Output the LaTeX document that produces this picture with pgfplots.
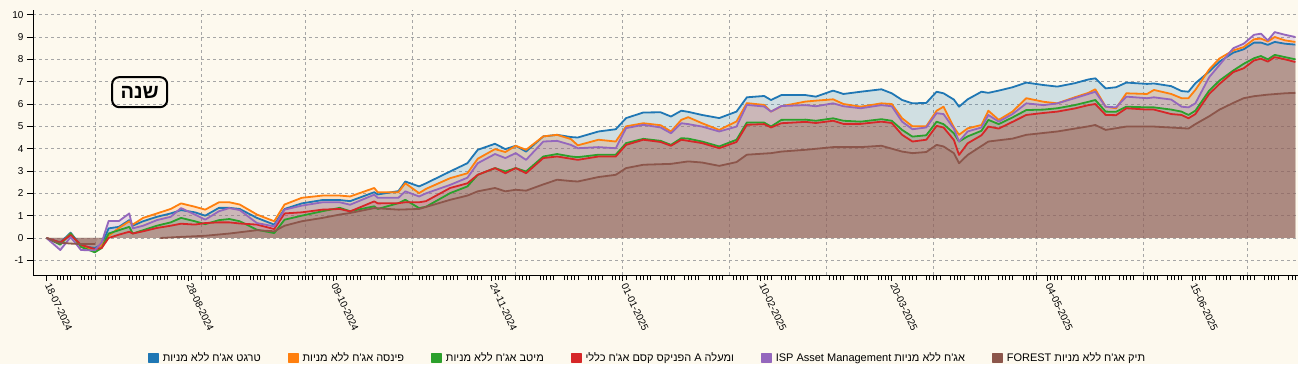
\documentclass[border=0pt]{standalone}
\usepackage{fontspec}
\setmainfont{Liberation Sans}
\newfontfamily\hebfont[Script=Hebrew]{Liberation Sans}
\usepackage{pgfplots}
\pgfplotsset{compat=1.18}
\usepackage{pgfplotstable}
\TeXXeTstate=1
\newcommand{\heb}[1]{{\hebfont\beginR #1\endR}}
\definecolor{bg}{HTML}{FDF9EE}
\definecolor{cB}{HTML}{1F77B4}
\definecolor{cO}{HTML}{FF7F0E}
\definecolor{cG}{HTML}{2CA02C}
\definecolor{cR}{HTML}{D62728}
\definecolor{cP}{HTML}{9467BD}
\definecolor{cF}{HTML}{8C564B}

\pgfplotstableread{
d B O G R P
0 0 0 0 0 0
4 -0.2 -0.25 -0.3 -0.2 -0.54
7 0.24 0.2 0.2 0.13 0.04
10 -0.35 -0.4 -0.4 -0.3 -0.54
14 -0.45 -0.55 -0.64 -0.5 -0.55
16 -0.3 -0.3 -0.45 -0.45 -0.2
18 0.43 0.1 0.2 0.0 0.76
21 0.5 0.45 0.35 0.15 0.76
24 0.8 0.75 0.5 0.28 1.1
25 0.55 0.6 0.2 0.2 0.43
28 0.75 0.9 0.35 0.3 0.55
32 0.95 1.1 0.55 0.45 0.8
36 1.1 1.3 0.7 0.55 0.95
39 1.25 1.55 0.9 0.64 1.34
43 1.15 1.4 0.75 0.6 1.05
46 1.0 1.27 0.62 0.67 0.82
50 1.35 1.6 0.8 0.7 1.2
53 1.35 1.6 0.85 0.7 1.34
56 1.3 1.5 0.75 0.65 1.25
61 0.9 1.05 0.37 0.6 0.67
66 0.6 0.75 0.22 0.4 0.52
69 1.3 1.5 0.82 1.1 1.27
74 1.55 1.8 1.0 1.15 1.45
80 1.7 1.9 1.2 1.27 1.6
85 1.7 1.9 1.35 1.3 1.6
88 1.65 1.86 1.2 1.19 1.49
95 2.05 2.24 1.42 1.64 1.94
96 1.95 2.05 1.3 1.55 1.8
102 2.1 2.05 1.56 1.56 1.8
104 2.53 2.45 1.71 1.6 2.09
108 2.31 2.01 1.34 1.6 1.86
110 2.45 2.2 1.4 1.65 2.0
117 2.98 2.68 2.01 2.24 2.38
122 3.35 2.9 2.31 2.45 2.7
125 3.95 3.55 2.83 2.83 3.35
130 4.22 3.98 3.13 3.13 3.76
133 3.98 3.85 2.98 2.9 3.58
136 4.13 4.13 3.13 3.13 3.8
139 3.87 3.95 2.98 2.9 3.5
144 4.55 4.55 3.65 3.58 4.32
148 4.62 4.62 3.76 3.65 4.35
152 4.52 4.43 3.65 3.55 4.17
154 4.5 4.15 3.62 3.5 4.02
160 4.77 4.4 3.73 3.65 4.07
165 4.87 4.32 3.73 3.65 4.02
168 5.37 5.0 4.25 4.17 4.92
173 5.62 5.14 4.44 4.4 5.07
178 5.63 5.05 4.35 4.3 4.95
181 5.44 4.77 4.17 4.13 4.69
184 5.7 5.29 4.47 4.4 5.14
186 5.65 5.41 4.45 4.35 5.1
190 5.51 5.14 4.32 4.25 4.99
195 5.37 4.84 4.1 4.02 4.77
200 5.66 5.22 4.4 4.3 4.99
203 6.3 6.04 5.17 5.07 5.96
208 6.36 5.96 5.17 5.1 5.89
210 6.18 5.66 4.99 4.95 5.66
213 6.4 5.9 5.29 5.14 5.91
220 6.4 6.11 5.3 5.2 5.95
223 6.33 6.15 5.25 5.15 5.9
228 6.6 6.21 5.36 5.25 6.03
231 6.45 6.0 5.25 5.11 5.9
236 6.55 5.88 5.21 5.11 5.81
242 6.66 6.03 5.32 5.21 5.95
245 6.48 6.0 5.25 5.15 5.9
248 6.18 5.36 4.84 4.62 5.21
251 6.03 5.0 4.54 4.32 4.87
255 6.05 5.0 4.6 4.4 4.95
258 6.55 5.7 5.21 5.02 5.59
260 6.48 5.88 5.1 4.95 5.55
263 6.2 4.96 4.69 4.39 4.9
264.5 5.88 4.62 4.32 3.72 4.32
267 6.21 4.91 4.55 4.24 4.77
271 6.55 5.06 4.8 4.6 4.95
273 6.5 5.7 5.29 4.99 5.51
276 6.6 5.29 5.1 4.9 5.21
280 6.75 5.66 5.4 5.2 5.55
284 6.96 6.26 5.73 5.51 6.03
289 6.85 6.1 5.75 5.6 5.95
293 6.78 6.03 5.81 5.66 6.03
298 6.93 6.3 5.95 5.8 6.26
302 7.1 6.5 6.1 5.95 6.45
304 7.15 6.66 6.18 6.0 6.55
307 6.7 5.88 5.66 5.51 5.88
310 6.75 5.81 5.65 5.5 5.85
313 6.96 6.48 5.88 5.81 6.33
319 6.9 6.45 5.85 5.75 6.26
321 6.92 6.63 5.85 5.75 6.3
326 6.8 6.45 5.75 5.55 6.2
329 6.58 6.26 5.66 5.51 5.88
331 6.55 6.26 5.51 5.36 5.85
333 6.93 6.63 5.7 5.55 6.03
337 7.45 7.55 6.6 6.45 7.2
340 7.9 8.04 7.05 6.9 7.75
344 8.3 8.4 7.5 7.43 8.5
347 8.45 8.55 7.8 7.6 8.7
350 8.75 8.9 8.05 7.95 9.1
352 8.75 8.93 8.15 8.03 9.15
354 8.65 8.8 8.0 7.9 8.85
356 8.78 9.0 8.2 8.1 9.22
359 8.7 8.85 8.1 8.0 9.1
362 8.66 8.78 8.0 7.88 9.0
}\tabA

\pgfplotstableread{
d F
0 0
3 -0.2
7 -0.25
10 -0.27
14 -0.27
15 0
33 0
39 0.05
46 0.1
53 0.2
61 0.35
66 0.3
69 0.55
74 0.75
80 0.9
85 1.05
88 1.12
95 1.34
102 1.27
108 1.3
117 1.71
122 1.9
125 2.09
130 2.24
133 2.09
136 2.16
139 2.12
144 2.4
148 2.61
152 2.55
154 2.53
160 2.73
165 2.83
168 3.13
173 3.28
181 3.32
186 3.43
190 3.38
195 3.23
200 3.4
203 3.73
210 3.8
213 3.87
220 3.95
228 4.07
236 4.07
242 4.13
248 3.87
251 3.8
255 3.85
258 4.17
260 4.1
263 3.8
264.5 3.35
267 3.72
273 4.32
280 4.45
284 4.62
293 4.77
302 5.0
304 5.06
307 4.84
313 4.99
321 4.99
329 4.92
331 4.9
333 5.1
337 5.45
340 5.75
344 6.05
347 6.26
350 6.35
354 6.42
359 6.48
362 6.5
}\tabF

\begin{document}
\begin{tikzpicture}
\fill[bg] (0,0) rectangle (1298pt,364pt);
\path[use as bounding box] (0,0) rectangle (1298pt,364pt);
\begin{axis}[
  at={(33pt,89pt)}, anchor=south west,
  scale only axis, width=1265pt, height=265pt,
  xmin=-3.913, xmax=362.75, ymin=-1.657, ymax=10.21,
  axis x line=bottom, axis y line=left,
  axis line style={-, black, line width=0.8pt},
  tick align=outside,
  major tick length=6pt, minor tick length=5pt,
  every tick/.style={black, line width=0.6pt},
  xtick={0,41,83,129,167,207,245,290,332},
  xticklabels={18-07-2024,28-08-2024,09-10-2024,24-11-2024,01-01-2025,10-02-2025,20-03-2025,04-05-2025,15-06-2025},
  minor xtick={0,7,...,357,3,10,...,360,4,11,...,361,5,12,...,362,6,13,...,356},
  extra x ticks={14,45,75,106,136,167,198,226,257,287,318,348},
  extra x tick labels={},
  extra x tick style={grid=major, major tick length=0pt},
  ytick={-1,0,1,2,3,4,5,6,7,8,9,10},
  ymajorgrids,
  grid style={dashed, gray!70, line width=0.6pt},
  /pgf/number format/assume math mode=true,
  xticklabel style={rotate=-65, anchor=west, font=\fontsize{10}{12}\selectfont},
  yticklabel style={font=\fontsize{10}{12}\selectfont},
  legend style={at={(0.4858,-0.3130)}, anchor=center, draw=none, fill=none,
    font=\fontsize{11}{13}\selectfont, legend columns=6,
    /tikz/every odd column/.append style={column sep=2pt},
    /tikz/every even column/.append style={column sep=25pt}},
  legend image code/.code={\fill (0pt,-4.5pt) rectangle (9pt,4.5pt);},
]
\addplot[draw=none, fill=cB, fill opacity=0.2, forget plot] table[x=d,y=B] {\tabA} \closedcycle;
\addplot[draw=none, fill=cO, fill opacity=0.2, forget plot] table[x=d,y=O] {\tabA} \closedcycle;
\addplot[draw=none, fill=cG, fill opacity=0.2, forget plot] table[x=d,y=G] {\tabA} \closedcycle;
\addplot[draw=none, fill=cR, fill opacity=0.2, forget plot] table[x=d,y=R] {\tabA} \closedcycle;
\addplot[draw=none, fill=cP, fill opacity=0.2, forget plot] table[x=d,y=P] {\tabA} \closedcycle;
\addplot[draw=none, fill=cF, fill opacity=0.2, forget plot] table[x=d,y=F] {\tabF} \closedcycle;

\addplot[color=cB, line width=1.8pt, line join=round] table[x=d,y=B] {\tabA};
\addlegendentry{\heb{טרגט אג'ח ללא מניות}}
\addplot[color=cO, line width=1.8pt, line join=round] table[x=d,y=O] {\tabA};
\addlegendentry{\heb{פינסה אג'ח ללא מניות}}
\addplot[color=cG, line width=1.8pt, line join=round] table[x=d,y=G] {\tabA};
\addlegendentry{\heb{מיטב אג'ח ללא מניות}}
\addplot[color=cR, line width=1.8pt, line join=round] table[x=d,y=R] {\tabA};
\addlegendentry{\heb{הפניקס קסם אג'ח כללי} A \heb{ומעלה}}
\addplot[color=cP, line width=1.8pt, line join=round] table[x=d,y=P] {\tabA};
\addlegendentry{ISP Asset Management \heb{אג'ח ללא מניות}}
\addplot[color=cF, line width=1.8pt, line join=round, forget plot, restrict x to domain=0:14] table[x=d,y=F] {\tabF};
\addplot[color=cF, line width=1.8pt, line join=round, restrict x to domain=32:400] table[x=d,y=F] {\tabF};
\addlegendentry{FOREST \heb{תיק אג'ח ללא מניות}}

\node[draw=black, rounded corners=7pt, line width=2pt, minimum width=55pt, minimum height=30pt, inner sep=2pt, font=\hebfont\bfseries\fontsize{20}{22}\selectfont] at (axis cs:27,6.53) {\beginR שנה\endR};
\end{axis}
\end{tikzpicture}
\end{document}
